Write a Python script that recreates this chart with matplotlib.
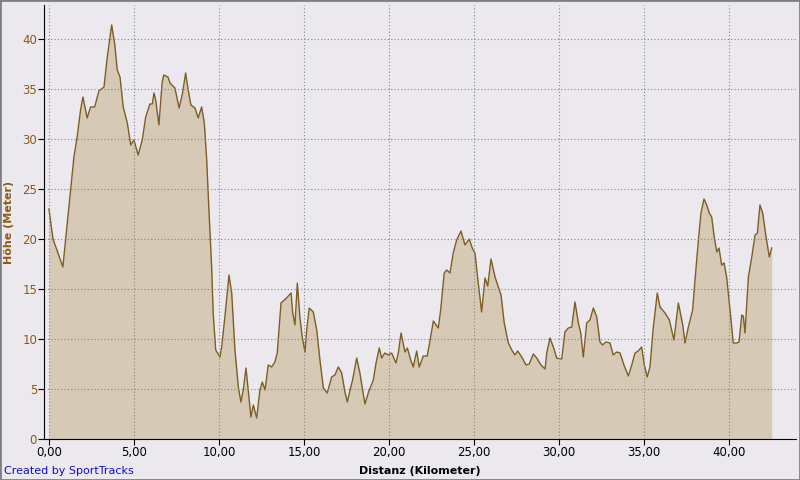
import matplotlib.pyplot as plt

# Höhenprofil, Werte
distanz_km = [
    0.00, 0.24, 0.82, 1.47, 1.66, 1.86, 2.00, 2.25, 2.45, 2.69, 2.94, 3.24, 3.41, 3.69, 3.86,
    4.02, 4.18, 4.37, 4.61, 4.81, 5.00, 5.25, 5.49, 5.69, 5.94, 6.08, 6.18, 6.28, 6.47, 6.66,
    6.76, 7.00, 7.12, 7.41, 7.66, 7.86, 8.04, 8.19, 8.35, 8.59, 8.78, 8.98, 9.14, 9.28, 9.41,
    9.57, 9.66, 9.81, 10.06, 10.16, 10.35, 10.59, 10.75, 10.94, 11.14, 11.29, 11.43, 11.59,
    11.72, 11.88, 12.02, 12.22, 12.41, 12.55, 12.71, 12.90, 13.10, 13.29, 13.43, 13.65, 13.98,
    14.24, 14.34, 14.47, 14.61, 14.76, 14.90, 15.06, 15.16, 15.31, 15.55, 15.75, 15.94, 16.14,
    16.37, 16.63, 16.82, 17.02, 17.22, 17.41, 17.55, 17.71, 17.86, 18.10, 18.29, 18.45, 18.59,
    18.78, 19.08, 19.24, 19.43, 19.57, 19.76, 19.96, 20.16, 20.41, 20.55, 20.71, 20.94, 21.08,
    21.28, 21.43, 21.63, 21.78, 22.02, 22.25, 22.41, 22.61, 22.90, 23.04, 23.25, 23.39, 23.59,
    23.78, 23.98, 24.24, 24.47, 24.72, 24.92, 25.06, 25.25, 25.45, 25.65, 25.81, 26.00, 26.24,
    26.43, 26.59, 26.78, 27.02, 27.22, 27.41, 27.57, 27.81, 28.06, 28.25, 28.49, 28.69, 28.94,
    29.18, 29.28, 29.47, 29.71, 29.86, 30.16, 30.35, 30.55, 30.75, 30.94, 31.14, 31.28, 31.43,
    31.63, 31.82, 32.02, 32.22, 32.41, 32.57, 32.76, 33.00, 33.19, 33.39, 33.59, 33.82, 34.08,
    34.28, 34.47, 34.66, 34.86, 35.02, 35.19, 35.35, 35.55, 35.78, 35.94, 36.24, 36.49, 36.76,
    37.02, 37.28, 37.41, 37.61, 37.86, 38.00, 38.19, 38.35, 38.53, 38.69, 38.84, 38.98, 39.14,
    39.28, 39.41, 39.57, 39.71, 39.86, 40.06, 40.25, 40.45, 40.59, 40.75, 40.84, 40.94, 41.14,
    41.34, 41.53, 41.67, 41.82, 41.98, 42.18, 42.37, 42.51,
]
hoehe_m = [
    23.0, 20.0, 17.2, 28.2, 30.2, 32.9, 34.2, 32.1, 33.2, 33.2, 34.8, 35.2, 37.9, 41.4, 39.6,
    36.9, 36.2, 33.2, 31.6, 29.4, 29.9, 28.4, 29.9, 32.2, 33.5, 33.5, 34.6, 33.9, 31.4, 35.7,
    36.4, 36.2, 35.6, 35.1, 33.1, 34.6, 36.6, 34.9, 33.4, 33.1, 32.1, 33.2, 31.6, 27.9, 22.9,
    17.2, 12.6, 8.9, 8.2, 9.2, 12.2, 16.4, 14.6, 8.9, 5.2, 3.7, 4.9, 7.1,
    4.9, 2.2, 3.4, 2.1, 4.9, 5.7, 4.9, 7.4, 7.2, 7.7, 8.6, 13.6, 14.1,
    14.6, 12.6, 11.4, 15.6, 12.2, 10.2, 8.7, 10.9, 13.1, 12.7, 10.9, 7.9, 5.1,
    4.6, 6.2, 6.4, 7.2, 6.6, 4.7, 3.7, 4.9, 5.9, 8.1, 6.6, 4.9, 3.5,
    4.6, 5.9, 7.6, 9.1, 8.1, 8.6, 8.4, 8.6, 7.6, 8.6, 10.6, 8.7, 9.1,
    7.9, 7.2, 8.8, 7.2, 8.3, 8.3, 9.8, 11.8, 11.1, 12.9, 16.6, 16.9, 16.6,
    18.6, 19.9, 20.8, 19.4, 20.0, 19.0, 18.6, 15.6, 12.7, 16.1, 15.3, 18.0, 16.2,
    15.2, 14.4, 11.6, 9.6, 8.9, 8.4, 8.8, 8.2, 7.4, 7.5, 8.5, 8.1, 7.4,
    7.0, 8.6, 10.1, 9.0, 8.1, 8.0, 10.7, 11.1, 11.2, 13.7, 11.6, 10.6, 8.2,
    11.6, 11.9, 13.1, 12.2, 9.7, 9.4, 9.7, 9.6, 8.4, 8.7, 8.6, 7.4, 6.3,
    7.4, 8.6, 8.8, 9.2, 7.4, 6.2, 7.2, 11.2, 14.6, 13.2, 12.6, 11.9, 9.9,
    13.6, 11.4, 9.6, 11.2, 12.9, 15.9, 19.7, 22.6, 24.0, 23.4, 22.6, 22.2, 20.1,
    18.7, 19.1, 17.4, 17.6, 16.2, 12.9, 9.6, 9.6, 9.7, 12.4, 12.3, 10.6, 16.2,
    18.2, 20.4, 20.6, 23.4, 22.6, 20.2, 18.2, 19.1,
]
x_ticks = [0, 5, 10, 15, 20, 25, 30, 35, 40]
x_labels = ['0,00', '5,00', '10,00', '15,00', '20,00', '25,00', '30,00', '35,00', '40,00']
y_ticks = [0, 5, 10, 15, 20, 25, 30, 35, 40]

bg = '#ECE9EE'
brown = '#8C5A14'

fig = plt.figure(figsize=(8, 4.8), dpi=100, facecolor=bg)
ax = fig.add_axes([44 / 800, 41 / 480, 752 / 800, 434 / 480])
ax.set_facecolor(bg)

ax.fill_between(distanz_km, hoehe_m, 0, color='#D6C9B6', lw=0)
ax.plot(distanz_km, hoehe_m, color='#7D5E22', lw=1.0)

ax.set_xlim(-0.29, 43.94)
ax.set_ylim(0, 43.4)
ax.set_xticks(x_ticks)
ax.set_xticklabels(x_labels)
ax.set_yticks(y_ticks)
ax.grid(True, linestyle=(0, (1, 2)), color='#85858A', lw=0.8)
ax.set_axisbelow(False)

for s in ['top', 'right']:
    ax.spines[s].set_visible(False)
ax.spines['left'].set_color('black')
ax.spines['bottom'].set_color('black')
ax.tick_params(axis='x', direction='out', length=4, colors='black', labelsize=8.5, pad=1)
ax.tick_params(axis='y', direction='out', length=4, color='black', labelcolor=brown, labelsize=8.5, pad=1)

ax.set_xlabel('Distanz (Kilometer)', fontsize=8, fontweight='bold', color='black')
ax.xaxis.set_label_coords(0.5, -27 / 434)
ax.set_ylabel('Höhe (Meter)', fontsize=8, fontweight='bold', color=brown)
ax.yaxis.set_label_coords(-30 / 752, 0.5)

fig.text(4 / 800, 1 - 471 / 480, 'Created by SportTracks', color='#1010C0', fontsize=8, va='center', ha='left')

# Rahmen um das Bild
fig.patches.append(plt.Rectangle((0, 0), 1, 1, transform=fig.transFigure, fill=False,
                                 edgecolor='#808080', lw=2))

fig.savefig('out.png', dpi=100, facecolor=bg)
